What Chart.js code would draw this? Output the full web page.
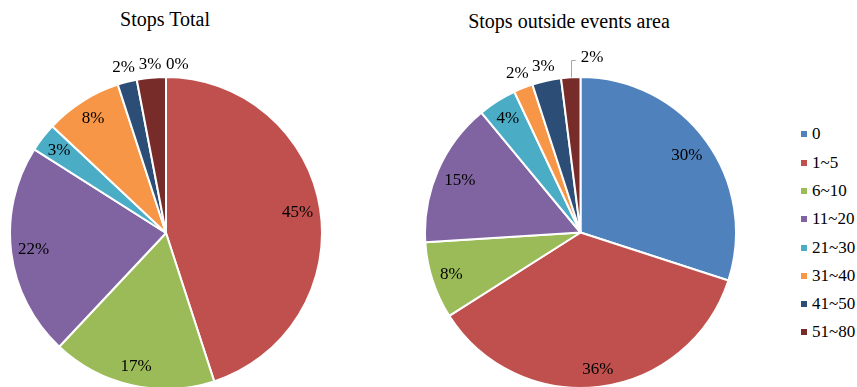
<!DOCTYPE html>
<html>
<head>
<meta charset="utf-8">
<title>Stops</title>
<script src="https://cdn.jsdelivr.net/npm/chart.js@4/dist/chart.umd.min.js"></script>
<style>
  html, body { margin: 0; padding: 0; background: #fff; width: 857px; height: 387px; overflow: hidden; }
  #wrap { position: relative; width: 857px; height: 387px; font-family: 'Liberation Serif', 'Times New Roman', serif; color: #000; }
  .title { position: absolute; width: 300px; font-size: 20px; line-height: 24px; text-align: center; white-space: nowrap; }
  canvas { position: absolute; top: 0; }
  #legend { position: absolute; left: 0; top: 0; }
  .item { position: absolute; left: 801px; height: 24px; line-height: 24px; font-size: 17px; white-space: nowrap; font-family: 'Liberation Serif', 'Times New Roman', serif; }
  .item span { position: absolute; left: 0; top: 9px; width: 6px; height: 6px; }
  .item b { position: absolute; left: 11px; top: 0; font-weight: normal; }
</style>
</head>
<body>
<div id="wrap">
  <div class="title" style="left:15px; top:7px;">Stops Total</div>
  <div class="title" style="left:419px; top:9px;">Stops outside events area</div>
  <canvas id="totalChart" width="314" height="390" style="left:9px;"></canvas>
  <canvas id="outsideChart" width="313" height="389" style="left:424px;"></canvas>
  <div id="legend"></div>
</div>
<script>
// stop-count buckets and share of stops (%)
const CATEGORIES = ['0', '1~5', '6~10', '11~20', '21~30', '31~40', '41~50', '51~80'];
const STOPS_TOTAL = [0, 45, 17, 22, 3, 8, 2, 3];
const STOPS_OUTSIDE = [30, 36, 8, 15, 4, 2, 3, 2];
const SLICE_COLORS = ['#4F81BD', '#C0504D', '#9BBB59', '#8064A2', '#4BACC6', '#F79646', '#2C4D75', '#772C2A'];

// which buckets get their label outside the pie
const OUTSIDE_TOTAL = ['0', '41~50', '51~80'];
const OUTSIDE_AREA = ['31~40', '41~50', '51~80'];

const LABEL_FONT = '17px "Liberation Serif", "Times New Roman", serif';

// percentage labels: inside near the rim, small slices outside;
// the label nearest the top is pushed right (with a leader line) if it crowds its neighbour
const pctLabels = {
  id: 'pctLabels',
  afterDatasetsDraw(chart, args, opts) {
    const ctx = chart.ctx;
    const meta = chart.getDatasetMeta(0);
    const values = chart.data.datasets[0].data;
    const total = values.reduce((a, b) => a + b, 0);
    const half = 9.5;

    ctx.save();
    ctx.font = LABEL_FONT;
    ctx.fillStyle = '#000';
    ctx.textAlign = 'center';
    ctx.textBaseline = 'middle';

    const outer = [];
    meta.data.forEach((arc, i) => {
      const p = arc.getProps(['x', 'y', 'startAngle', 'endAngle', 'outerRadius'], true);
      const mid = (p.startAngle + p.endAngle) / 2;
      const text = Math.round(values[i] / total * 100) + '%';
      const w = ctx.measureText(text).width;
      const c = Math.cos(mid), s = Math.sin(mid);
      const ext = Math.abs(c) * w / 2 + Math.abs(s) * half;
      const isOut = opts.outside.includes(chart.data.labels[i]);
      const d = isOut ? p.outerRadius + 3 + ext : p.outerRadius - 6 - ext;
      const lbl = { text, w, x: p.x + c * d, y: p.y + s * d, value: values[i],
        ex: p.x + c * p.outerRadius, ey: p.y + s * p.outerRadius };
      if (isOut) outer.push(lbl);
      else ctx.fillText(text, lbl.x, lbl.y);
    });

    outer.sort((a, b) => a.x - b.x);
    outer.forEach((l, k) => {
      const prev = outer[k - 1];
      const last = k === outer.length - 1;
      if (last && prev) {
        const prevRight = prev.x + prev.w / 2;
        if (l.x - l.w / 2 < prevRight + 6) {
          if (l.value > 0) {
            const left = Math.max(l.ex + 10, prevRight + 4);
            l.x = left + l.w / 2;
            l.y -= 7;
            const ly = Math.round(l.y + 3) + 0.5;
            const lx = Math.round(l.ex) + 0.5;
            ctx.strokeStyle = '#A6A6A6';
            ctx.lineWidth = 1;
            ctx.beginPath();
            ctx.moveTo(lx, l.ey);
            ctx.lineTo(lx, ly);
            ctx.lineTo(left - 5, ly);
            ctx.stroke();
          } else {
            l.x = prevRight + 4.5 + l.w / 2;
          }
        }
      }
      ctx.fillText(l.text, l.x, l.y);
    });
    ctx.restore();
  }
};

function makePie(id, values, outside) {
  return new Chart(document.getElementById(id), {
    type: 'pie',
    data: {
      labels: CATEGORIES,
      datasets: [{
        data: values,
        backgroundColor: SLICE_COLORS,
        borderColor: '#fff',
        borderWidth: 2,
        hoverBorderWidth: 2,
        hoverOffset: 0
      }]
    },
    options: {
      responsive: false,
      animation: false,
      layout: { padding: { top: 76 } },
      plugins: {
        legend: { display: false },
        tooltip: { enabled: false },
        pctLabels: { outside }
      }
    },
    plugins: [pctLabels]
  });
}

const totalChart = makePie('totalChart', STOPS_TOTAL, OUTSIDE_TOTAL);
const outsideChart = makePie('outsideChart', STOPS_OUTSIDE, OUTSIDE_AREA);

// legend built from the chart's own legend items
const legendEl = document.getElementById('legend');
const items = outsideChart.options.plugins.legend.labels.generateLabels(outsideChart);
items.forEach((it, i) => {
  const row = document.createElement('div');
  row.className = 'item';
  row.style.top = (134.3 + i * 28.3 - 12) + 'px';
  const sw = document.createElement('span');
  sw.style.background = it.fillStyle;
  const tx = document.createElement('b');
  tx.textContent = it.text;
  row.appendChild(sw);
  row.appendChild(tx);
  legendEl.appendChild(row);
});
</script>
</body>
</html>
